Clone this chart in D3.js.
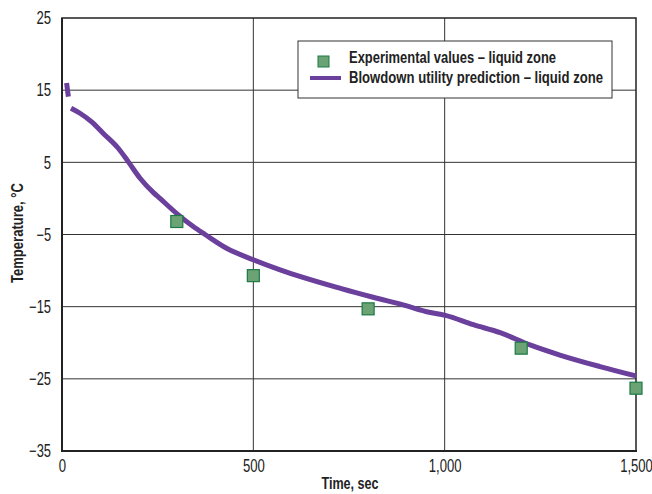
<!DOCTYPE html>
<html>
<head>
<meta charset="utf-8">
<script src="https://cdn.jsdelivr.net/npm/d3@7"></script>
<style>
body { margin: 0; background: #fff; }
svg text { font-family: 'Liberation Sans', Arial, sans-serif; }
</style>
</head>
<body>
<svg id="main_svg" width="652" height="494"></svg>
<script>
// prediction curve (time in sec, temperature in C); null = small break in the original line
var predTime = [12, 16.6, 20, 23.5, 47, 77.5, 108, 147, 173, 204, 239, 256, 300, 343, 374, 430, 500, 570, 730, 813, 901, 953, 1002, 1075, 1145, 1223, 1301, 1406, 1500];
var predTemp = [16.0, 14.1, null, 12.5, 11.8, 10.6, 9.0, 6.95, 5.1, 2.8, 0.8, 0.0, -2.1, -3.9, -5.0, -6.9, -8.5, -9.9, -12.5, -13.7, -14.9, -15.7, -16.2, -17.5, -18.6, -20.3, -21.7, -23.3, -24.6];

// experimental points
var expTime = [300, 500, 800, 1200, 1500];
var expTemp = [-3.2, -10.7, -15.3, -20.75, -26.3];

var xTicks = [0, 500, 1000, 1500];
var yTicks = [25, 15, 5, -5, -15, -25, -35];

var legendLabels = ["Experimental values \u2013 liquid zone", "Blowdown utility prediction \u2013 liquid zone"];

var purple = "#6b3f9c";
var sqFill = "#6ba375";
var sqStroke = "#1b7a45";

var svg = d3.select("#main_svg");
var plotL = 62, plotR = 636, plotT = 18, plotB = 451;

var x = d3.scaleLinear().domain([0, 1500]).range([plotL, plotR]);
var y = d3.scaleLinear().domain([-35, 25]).range([plotB, plotT]);

// narrow font look: squeeze text to the width it has in the original
function narrowWidth(s) {
    var w = 0;
    s.split("").forEach(function(c) {
        if (c == ",") w += 3.5;
        else if (c == "-") w += 5;
        else w += 7.3;
    });
    return w;
}

// grid lines
svg.append("g")
    .selectAll("line")
    .data(yTicks.filter(function(d) { return d != 25 && d != -35; }))
    .enter()
    .append("line")
    .attr("x1", plotL).attr("x2", plotR)
    .attr("y1", function(d) { return y(d); })
    .attr("y2", function(d) { return y(d); })
    .attr("stroke", "#333")
    .attr("stroke-width", 1);

svg.append("g")
    .selectAll("line")
    .data([500, 1000])
    .enter()
    .append("line")
    .attr("y1", plotT).attr("y2", plotB)
    .attr("x1", function(d) { return x(d); })
    .attr("x2", function(d) { return x(d); })
    .attr("stroke", "#333")
    .attr("stroke-width", 1);

// frame
svg.append("rect")
    .attr("x", plotL).attr("y", plotT)
    .attr("width", plotR - plotL).attr("height", plotB - plotT)
    .attr("fill", "none")
    .attr("stroke", "#222")
    .attr("stroke-width", 1.5);
svg.append("line")
    .attr("x1", plotL).attr("x2", plotL).attr("y1", plotT).attr("y2", plotB + 1)
    .attr("stroke", "#222").attr("stroke-width", 2);
svg.append("line")
    .attr("x1", plotL - 1).attr("x2", plotR + 1).attr("y1", plotB).attr("y2", plotB)
    .attr("stroke", "#222").attr("stroke-width", 2);

// axes (labels only)
var xAxis = d3.axisBottom(x)
    .tickValues(xTicks)
    .tickSize(0)
    .tickPadding(8)
    .tickFormat(d3.format(","));
var gx = svg.append("g")
    .attr("transform", "translate(0," + plotB + ")")
    .call(xAxis);
gx.select(".domain").remove();

var yAxis = d3.axisLeft(y)
    .tickValues(yTicks)
    .tickSize(0)
    .tickPadding(11);
var gy = svg.append("g")
    .attr("transform", "translate(" + plotL + ",0)")
    .call(yAxis);
gy.select(".domain").remove();

svg.selectAll(".tick text")
    .attr("font-family", null)
    .attr("font-size", 18)
    .attr("fill", "#222")
    .attr("textLength", function() { return narrowWidth(this.textContent); })
    .attr("lengthAdjust", "spacingAndGlyphs");

// axis titles
svg.append("text")
    .attr("x", 350)
    .attr("y", 489)
    .attr("text-anchor", "middle")
    .attr("font-size", 16)
    .attr("font-weight", "bold")
    .attr("fill", "#222")
    .attr("textLength", 57)
    .attr("lengthAdjust", "spacingAndGlyphs")
    .text("Time, sec");

svg.append("text")
    .attr("transform", "translate(23,233) rotate(-90)")
    .attr("text-anchor", "middle")
    .attr("font-size", 16)
    .attr("font-weight", "bold")
    .attr("fill", "#222")
    .attr("textLength", 100)
    .attr("lengthAdjust", "spacingAndGlyphs")
    .text("Temperature, \u00B0C");

// prediction line
var predData = predTime.map(function(t, i) { return [t, predTemp[i]]; });
var line = d3.line()
    .defined(function(d) { return d[1] !== null; })
    .x(function(d) { return x(d[0]); })
    .y(function(d) { return y(d[1]); })
    .curve(d3.curveMonotoneX);

svg.append("path")
    .datum(predData)
    .attr("d", line)
    .attr("fill", "none")
    .attr("stroke", purple)
    .attr("stroke-width", 5)
    .attr("stroke-linejoin", "round");

// experimental squares
var expData = expTime.map(function(t, i) { return [t, expTemp[i]]; });
svg.append("g")
    .selectAll("rect")
    .data(expData)
    .enter()
    .append("rect")
    .attr("x", function(d) { return x(d[0]) - 6; })
    .attr("y", function(d) { return y(d[1]) - 6; })
    .attr("width", 12)
    .attr("height", 12)
    .attr("fill", sqFill)
    .attr("stroke", sqStroke)
    .attr("stroke-width", 1.2);

// legend
var legendWidths = [207, 254];
var lg = svg.append("g");
lg.append("rect")
    .attr("x", 298).attr("y", 41)
    .attr("width", 314).attr("height", 57)
    .attr("fill", "#fff")
    .attr("stroke", "#333")
    .attr("stroke-width", 1);
lg.append("rect")
    .attr("x", 318).attr("y", 56)
    .attr("width", 11).attr("height", 11)
    .attr("fill", sqFill)
    .attr("stroke", sqStroke)
    .attr("stroke-width", 1);
lg.append("line")
    .attr("x1", 310).attr("x2", 341)
    .attr("y1", 78).attr("y2", 78)
    .attr("stroke", purple)
    .attr("stroke-width", 4);
lg.selectAll("text")
    .data(legendLabels)
    .enter()
    .append("text")
    .attr("x", 349)
    .attr("y", function(d, i) { return 63 + i * 20; })
    .attr("font-size", 17)
    .attr("font-weight", "bold")
    .attr("fill", "#222")
    .attr("textLength", function(d, i) { return legendWidths[i]; })
    .attr("lengthAdjust", "spacingAndGlyphs")
    .text(function(d) { return d; });
</script>
</body>
</html>
